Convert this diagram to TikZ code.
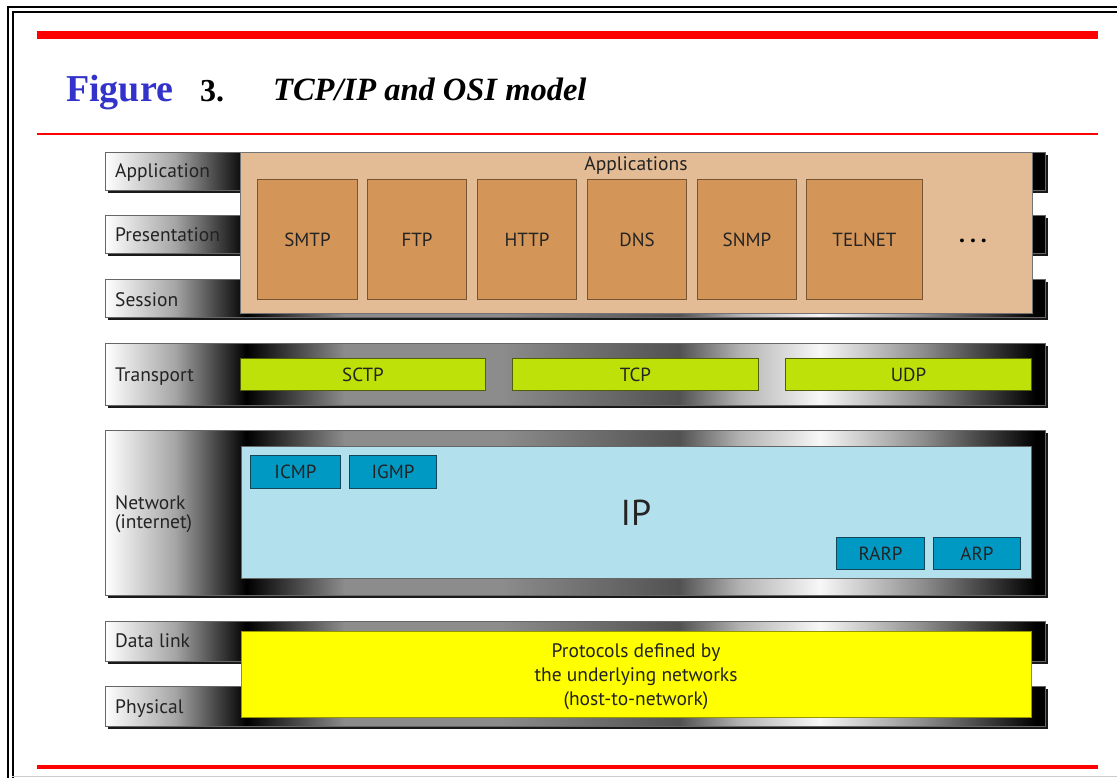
\documentclass[tikz,border=0pt]{standalone}
\usepackage{fontspec}
\setmainfont{Liberation Serif}
\newfontfamily\dsans{PT Sans}
\usetikzlibrary{shadows}
\definecolor{tanbg}{RGB}{227,187,148}
\definecolor{tanbox}{RGB}{212,150,88}
\definecolor{tanline}{RGB}{120,85,50}
\definecolor{lime}{RGB}{190,225,10}
\definecolor{limeline}{RGB}{80,95,10}
\definecolor{skyb}{RGB}{178,224,236}
\definecolor{teal}{RGB}{0,153,196}
\definecolor{tealline}{RGB}{20,70,90}
\definecolor{yelfill}{RGB}{255,255,0}
\definecolor{yelline}{RGB}{150,150,0}
\definecolor{figblue}{RGB}{51,51,204}
\definecolor{ink}{RGB}{35,35,35}
\pgfdeclarehorizontalshading{bandshade}{100bp}{color(0bp)=(white); color(25bp)=(white); color(28.7bp)=(black!35); color(32.5bp)=(black); color(37.75bp)=(black!45); color(46bp)=(black!45); color(55.5bp)=(black!68); color(58.75bp)=(black!30); color(63bp)=(black!3); color(68.5bp)=(black!45); color(74.5bp)=(black); color(100bp)=(black)}
\tikzset{
  band/.style={draw=black!60, line width=0.8pt, shading=bandshade, inner sep=0, anchor=north west,
    drop shadow={shadow xshift=3pt, shadow yshift=-3pt, fill=black!90, opacity=1}},
  lbl/.style={font=\dsans\fontsize{19.5}{20}\selectfont, text=ink, anchor=base west, inner sep=0},
  txt/.style={font=\dsans\fontsize{19.5}{24}\selectfont, text=ink, inner sep=0, align=center},
  box/.style={inner sep=0, anchor=north west, line width=1pt},
  appbox/.style={box, fill=tanbox, draw=tanline, font=\dsans\fontsize{19}{20}\selectfont, text=ink},
  tbox/.style={box, fill=lime, draw=limeline, font=\dsans\fontsize{19}{20}\selectfont, text=ink},
  nbox/.style={box, fill=teal, draw=tealline, font=\dsans\fontsize{19}{20}\selectfont, text=ink},
}
\begin{document}
\begin{tikzpicture}[x=1pt,y=-1pt]
\useasboundingbox (0,0) rectangle (1117,778);
\fill[white] (0,0) rectangle (1117,778);
% frame
\draw[line width=2pt] (7.5,778) -- (7.5,7.5) -- (1117,7.5);
\draw[line width=2pt] (12.5,778) -- (12.5,12.5) -- (1117,12.5);
\draw[black!20, line width=1pt] (12,776.5) -- (1117,776.5);
% red rules
\fill[red] (37,31) rectangle (1098,39);
\fill[red] (37,133.5) rectangle (1098,135);
\fill[red] (37,764.5) rectangle (1098,768.5);
% title
\node[anchor=base west, inner sep=0, text=figblue, font=\bfseries\fontsize{38}{40}\selectfont] (fig) at (66,102) {Figure};
\node[anchor=base west, inner sep=0, font=\bfseries\fontsize{32}{36}\selectfont] (num) at (200,102) {3.};
\node[anchor=base west, inner sep=0, font=\bfseries\itshape\fontsize{32.5}{34}\selectfont] (ttl) at (273,101) {TCP/IP and OSI model};
% bands
\node[band, minimum width=940pt, minimum height=38pt] (bapp) at (105,152) {};
\node[band, minimum width=940pt, minimum height=38pt] (bpres) at (105,215) {};
\node[band, minimum width=940pt, minimum height=38pt] (bsess) at (105,279) {};
\node[band, minimum width=940pt, minimum height=62pt] (btrans) at (105,343) {};
\node[band, minimum width=940pt, minimum height=165pt] (bnet) at (105,430) {};
\node[band, minimum width=940pt, minimum height=40pt] (bdl) at (105,621) {};
\node[band, minimum width=940pt, minimum height=40pt] (bphy) at (105,686) {};
% labels
\node[lbl] (lapp) at (115,178) {Application};
\node[lbl] (lpres) at (115,242) {Presentation};
\node[lbl] (lsess) at (115,306) {Session};
\node[lbl] (ltrans) at (115,381) {Transport};
\node[lbl] (lnet) at (115,509) {Network};
\node[lbl] (lneti) at (115,528) {(internet)};
\node[lbl] (ldl) at (115,647) {Data link};
\node[lbl] (lphy) at (115,713) {Physical};
% application layer
\node[box, fill=tanbg, draw=black!55, minimum width=792pt, minimum height=161pt] (apps) at (240,152) {};
\node[txt] (appst) at (636,166) {Applications};
\node[appbox, minimum width=100pt, minimum height=120pt] (smtp) at (257,179) {SMTP};
\node[appbox, minimum width=99pt, minimum height=120pt] (ftp) at (367,179) {FTP};
\node[appbox, minimum width=99pt, minimum height=120pt] (http) at (477,179) {HTTP};
\node[appbox, minimum width=99pt, minimum height=120pt] (dns) at (587,179) {DNS};
\node[appbox, minimum width=99pt, minimum height=120pt] (snmp) at (697,179) {SNMP};
\node[appbox, minimum width=116pt, minimum height=120pt] (telnet) at (806,179) {TELNET};
\node[inner sep=0, font=\dsans\bfseries\fontsize{24}{24}\selectfont] (dots) at (973,241) {.\hspace{5pt}.\hspace{5pt}.};
% transport
\node[tbox, minimum width=245pt, minimum height=32pt] (sctp) at (240,358) {SCTP};
\node[tbox, minimum width=246pt, minimum height=32pt] (tcp) at (512,358) {TCP};
\node[tbox, minimum width=246pt, minimum height=32pt] (udp) at (785,358) {UDP};
% network
\node[box, fill=skyb, draw=black!60, minimum width=790pt, minimum height=132pt] (ip) at (241,446) {};
\node[inner sep=0, font=\dsans\fontsize{36}{40}\selectfont, text=ink] (ipt) at (636,513) {IP};
\node[nbox, minimum width=90pt, minimum height=33pt] (icmp) at (250,455) {ICMP};
\node[nbox, minimum width=87pt, minimum height=33pt] (igmp) at (349,455) {IGMP};
\node[nbox, minimum width=88pt, minimum height=32pt] (rarp) at (836,537) {RARP};
\node[nbox, minimum width=87pt, minimum height=32pt] (arp) at (933,537) {ARP};
% data link / physical
\node[box, fill=yelfill, draw=yelline, minimum width=790pt, minimum height=86pt] (phys) at (241,631) {};
\node[txt] (physt) at (636,677) {Protocols defined by\\the underlying networks\\(host-to-network)};
\end{tikzpicture}
\end{document}
